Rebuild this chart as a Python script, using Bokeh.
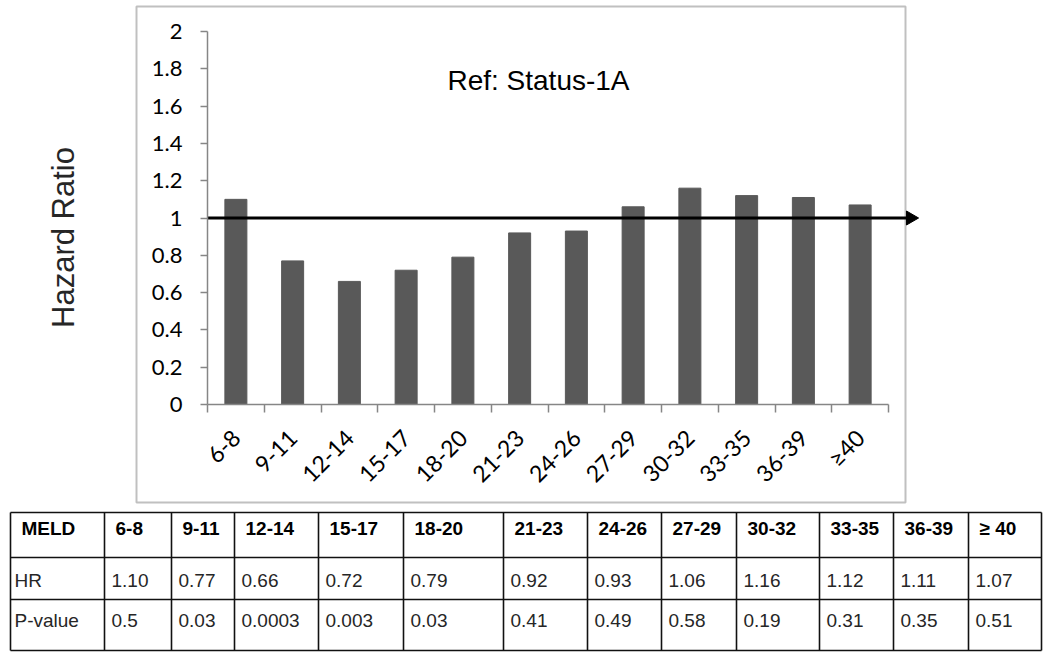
import math
import numpy as np
from bokeh.plotting import figure
from bokeh.models import (Range1d, LinearAxis, FixedTicker, Label, ColumnDataSource)
from bokeh.layouts import column
from bokeh.embed import file_html
from bokeh.resources import INLINE
from bokeh.core.properties import value

# ---------------- data ----------------
categories = ["6-8", "9-11", "12-14", "15-17", "18-20", "21-23", "24-26",
              "27-29", "30-32", "33-35", "36-39", "≥40"]
hazard_ratio = [1.10, 0.77, 0.66, 0.72, 0.79, 0.92, 0.93, 1.06, 1.16, 1.12, 1.11, 1.07]
p_values = ["0.5", "0.03", "0.0003", "0.003", "0.03", "0.41", "0.49", "0.58",
            "0.19", "0.31", "0.35", "0.51"]
table_columns = ["6-8", "9-11", "12-14", "15-17", "18-20", "21-23", "24-26",
                 "27-29", "30-32", "33-35", "36-39", "≥ 40"]
row_labels = ["MELD", "HR", "P-value"]
y_ticks = [0.0, 0.2, 0.4, 0.6, 0.8, 1.0, 1.2, 1.4, 1.6, 1.8, 2.0]
y_tick_labels = ["0", "0.2", "0.4", "0.6", "0.8", "1", "1.2", "1.4", "1.6", "1.8", "2"]
reference_hr = 1.0
annotation_text = "Ref: Status-1A"
y_axis_title = "Hazard Ratio"

# ---------------- layout constants (pixels) ----------------
W = 1050
TOP_H = 507
TAB_H = 146
SLOT = 56.75      # px per category
UNIT_Y = 186.5    # px per hazard-ratio unit
AX0 = 207         # px of category axis start
AY0 = 404         # px of HR = 0
n = len(categories)
positions = list(np.arange(n) + 0.5)
GRAY = "#868686"


def px_x(px):
    return (px - AX0) / SLOT


def px_y(py):
    return (AY0 - py) / UNIT_Y


p = figure(width=W, height=TOP_H, output_backend="svg", toolbar_location=None,
           x_axis_location=None, y_axis_location=None, min_border=0,
           x_range=Range1d(px_x(0), px_x(W)), y_range=Range1d(px_y(TOP_H), px_y(0)))
p.grid.visible = False
p.outline_line_color = None
p.background_fill_color = "white"
p.border_fill_color = "white"

# chart border box
p.quad(left=[px_x(136)], right=[px_x(905)], top=[px_y(6)], bottom=[px_y(502)],
       fill_color=None, line_color="#c0c0c0", line_width=2)

src = ColumnDataSource(dict(x=positions, top=hazard_ratio))
p.vbar(x="x", top="top", bottom=0, width=22 / SLOT, source=src,
       fill_color="#595959", line_color="#595959")

# y axis
yaxis = LinearAxis(fixed_location=0, ticker=FixedTicker(ticks=y_ticks), bounds=(0, 2),
                   major_label_overrides={t: l for t, l in zip(y_ticks, y_tick_labels)},
                   axis_line_color=GRAY, axis_line_width=1.5,
                   major_tick_line_color=GRAY, major_tick_line_width=1.5,
                   major_tick_out=7, major_tick_in=0, minor_tick_line_color=None,
                   major_label_text_font="Lato", major_label_text_font_size="22px",
                   major_label_text_color="black", major_label_standoff=18)
p.add_layout(yaxis, "left")

# x axis: boundary ticks
xaxis_ticks = LinearAxis(fixed_location=0, ticker=FixedTicker(ticks=list(range(n + 1))),
                         bounds=(0, n), axis_line_color=GRAY, axis_line_width=1.5,
                         major_tick_line_color=GRAY, major_tick_line_width=1.5,
                         major_tick_out=8, major_tick_in=0, minor_tick_line_color=None,
                         major_label_text_alpha=0, major_label_text_font_size="1px")
p.add_layout(xaxis_ticks, "below")

# x axis: category labels
xaxis_labels = LinearAxis(fixed_location=0, ticker=FixedTicker(ticks=positions),
                          axis_line_color=None, major_tick_line_color=None,
                          minor_tick_line_color=None,
                          major_label_overrides={float(x): c for x, c in zip(positions, categories)},
                          major_label_orientation=math.pi / 4,
                          major_label_text_font="Lato", major_label_text_font_size="23px",
                          major_label_text_color="black", major_label_standoff=23)
p.add_layout(xaxis_labels, "below")

# reference line with arrow head
p.segment(x0=[0], y0=[reference_hr], x1=[px_x(908)], y1=[reference_hr],
          line_color="black", line_width=3)
p.scatter(x=[px_x(910)], y=[reference_hr], marker="triangle", size=14,
          angle=-math.pi / 2, fill_color="black", line_color="black")

p.add_layout(Label(x=px_x(538), y=px_y(80), text=annotation_text, text_align="center",
                   text_baseline="middle", text_font="Liberation Sans",
                   text_font_size="28px", text_color="black"))

p.add_layout(Label(x=px_x(63), y=px_y(237), text=y_axis_title, angle=math.pi / 2,
                   text_align="center", text_baseline="middle",
                   text_font="Liberation Sans", text_font_size="31px",
                   text_color="#262626"))

# ---------------- table ----------------
col_edges = [10, 104, 171, 234, 318, 403, 503, 587, 661, 736, 819, 893, 968, 1041]
row_edges = [5, 50, 92, 143]
row_centers = [21, 73, 113]

t = figure(width=W, height=TAB_H, output_backend="svg", toolbar_location=None,
           x_axis_location=None, y_axis_location=None, min_border=0,
           x_range=Range1d(0, W), y_range=Range1d(TAB_H, 0))
t.grid.visible = False
t.outline_line_color = None

t.segment(x0=col_edges, y0=[row_edges[0]] * len(col_edges),
          x1=col_edges, y1=[row_edges[-1]] * len(col_edges),
          line_color="#111111", line_width=1.6)
t.segment(x0=[col_edges[0]] * len(row_edges), y0=row_edges,
          x1=[col_edges[-1]] * len(row_edges), y1=row_edges,
          line_color="#111111", line_width=1.6)

rows = [
    [row_labels[0]] + table_columns,
    [row_labels[1]] + [f"{v:.2f}" for v in hazard_ratio],
    [row_labels[2]] + p_values,
]
pads = [11, 7, 7]
for i, cells in enumerate(rows):
    xs = [e + pads[i] for e in col_edges[:-1]]
    if i > 0:
        xs[0] = col_edges[0] + 4
    t.text(x=xs, y=[row_centers[i]] * len(cells), text=cells,
           text_align="left", text_baseline="middle",
           text_font=value("Liberation Sans"), text_font_size="19px",
           text_font_style="bold" if i == 0 else "normal",
           text_color="black" if i == 0 else "#262626")

layout = column(p, t, spacing=0)
open("out.html", "w").write(file_html(layout, INLINE))
